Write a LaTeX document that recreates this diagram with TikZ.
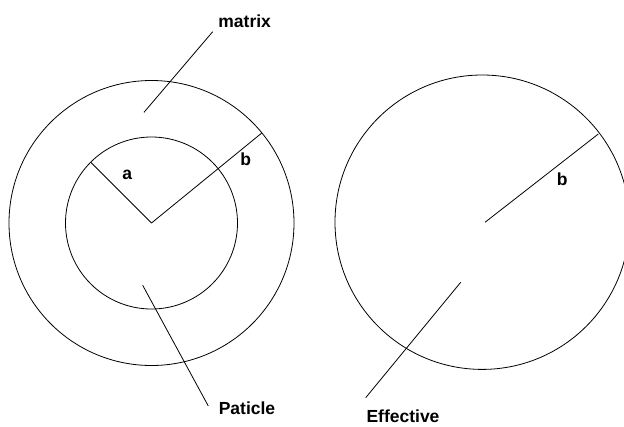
\documentclass[tikz,border=0pt]{standalone}
\usepackage{fontspec}
\setmainfont{Liberation Sans}
\begin{document}
\begin{tikzpicture}[x=1pt,y=-1pt,
  ln/.style={line width=0.8pt,black},
  lbl/.style={font=\bfseries\fontsize{17.5}{20}\selectfont,inner sep=0pt}]
\useasboundingbox (0,0) rectangle (624,426);
\clip (0,0) rectangle (624,426);
% left composite
\coordinate (lc) at (151.5,223);
\draw[ln] (lc) circle[radius=142.5];
\draw[ln] (lc) circle[radius=86];
\coordinate (aend) at (90.7,162.2);
\coordinate (bend) at (261.9,132.9);
\draw[ln] (lc) -- (aend);
\draw[ln] (lc) -- (bend);
\node[lbl] (la) at (127.3,175) {a};
\node[lbl] (lb) at (245.7,159.5) {b};
% matrix label
\coordinate (m1) at (144,112.3);
\coordinate (m2) at (212.7,31.7);
\draw[ln] (m1) -- (m2);
\node[lbl] (matrix) at (244.7,21) {matrix};
% particle label
\coordinate (p1) at (142.7,285.3);
\coordinate (p2) at (208.3,406);
\draw[ln] (p1) -- (p2);
\node[lbl] (pat) at (247,408) {Paticle};
% right effective
\coordinate (rc) at (482.2,222.2);
\draw[ln] (rc) circle[radius=147.2];
\coordinate (rbstart) at (485,222.3);
\coordinate (rbend) at (598.3,134);
\draw[ln] (rbstart) -- (rbend);
\node[lbl] (rb) at (562.3,179) {b};
\coordinate (e1) at (460.7,282.3);
\coordinate (e2) at (365.7,397.7);
\draw[ln] (e1) -- (e2);
\node[lbl] (eff) at (403,416.5) {Effective};
\end{tikzpicture}
\end{document}
